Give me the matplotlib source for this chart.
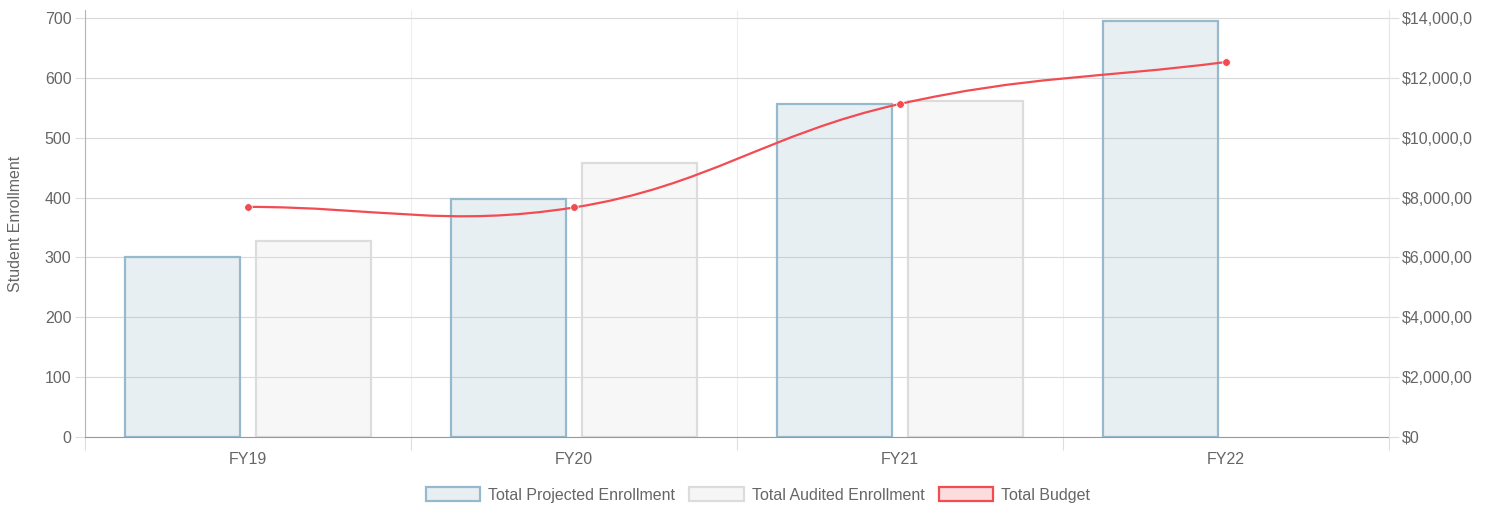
import numpy as np
import matplotlib.pyplot as plt
from matplotlib.path import Path
from matplotlib.patches import PathPatch, Patch
from matplotlib.ticker import FuncFormatter
from matplotlib.transforms import Bbox

plt.rcParams['font.family'] = ['Liberation Sans', 'DejaVu Sans']

years = ['FY19', 'FY20', 'FY21', 'FY22']
projected = [300, 398, 557, 695]
audited = [327, 457, 562, np.nan]
budget = [7690000, 7670000, 11130000, 12530000]

TXT = '#666666'
FS = 11.5

fig = plt.figure(figsize=(14.86, 5.05), dpi=100)
ax = fig.add_axes([85 / 1486, 68 / 505, 1304 / 1486, 427 / 505])
ax2 = ax.twinx()

x = np.arange(len(years))
ax.bar(x - 0.2, projected, width=0.353, color=(0.58, 0.72, 0.80, 0.22),
       edgecolor='#97b9cd', linewidth=1.6, zorder=2)
ax.bar(x + 0.2, audited, width=0.353, color=(0.86, 0.86, 0.86, 0.2),
       edgecolor='#dcdcdc', linewidth=1.6, zorder=2)

ytop = 713.4
ax.set_ylim(0, ytop)
ax.set_xlim(-0.5, len(years) - 0.5)
ax.set_yticks(range(0, 701, 100))
ax.set_xticks(x)
ax.set_xticklabels(years)
ax.set_xticks(np.arange(-0.5, len(years), 1), minor=True)
ax.tick_params(axis='x', which='major', length=0, pad=11, labelsize=FS, labelcolor=TXT)
ax.tick_params(axis='x', which='minor', length=9.4, color='#dddddd', width=0.8)
ax.tick_params(axis='y', length=7.2, color='#dddddd', width=0.8, labelsize=FS,
               labelcolor=TXT, pad=2.6)
ax.grid(axis='y', color='#d9d9d9', linewidth=0.8, zorder=0)
ax.grid(axis='x', which='minor', color='#eeeeee', linewidth=0.8, zorder=0)
ax.set_axisbelow(True)
ax.set_ylabel('Student Enrollment', color=TXT, fontsize=FS)
ax.yaxis.set_label_coords(-62 / 1304, 0.5)
for s in ['top', 'right']:
    ax.spines[s].set_visible(False)
ax.spines['left'].set_color('#b5b5b5')
ax.spines['bottom'].set_color('#999999')

# right axis
ax2.set_ylim(0, ytop / 700 * 14000000)
ax2.set_yticks(range(0, 14000001, 2000000))
ax2.yaxis.set_major_formatter(FuncFormatter(lambda v, p: '${:,.0f}'.format(v)))
ax2.tick_params(axis='y', length=7.2, color='#dddddd', width=0.8, labelsize=FS,
                labelcolor=TXT, pad=2.2)
for s in ['top', 'left', 'bottom']:
    ax2.spines[s].set_visible(False)
ax2.spines['right'].set_color('#e6e6e6')

# smooth line (bezier, tension 0.4) through budget points
fig.canvas.draw()
pts = ax2.transData.transform(np.column_stack([x, budget]))
t = 0.4
verts = [pts[0]]
codes = [Path.MOVETO]
cps = []
n = len(pts)
for i in range(n):
    prev = pts[max(i - 1, 0)]
    cur = pts[i]
    nxt = pts[min(i + 1, n - 1)]
    d01 = np.hypot(*(cur - prev))
    d12 = np.hypot(*(nxt - cur))
    tot = d01 + d12 if d01 + d12 > 0 else 1
    fa = t * d01 / tot
    fb = t * d12 / tot
    cps.append((cur - fa * (nxt - prev), cur + fb * (nxt - prev)))
for i in range(n - 1):
    verts += [cps[i][1], cps[i + 1][0], pts[i + 1]]
    codes += [Path.CURVE4] * 3
inv = ax2.transData.inverted()
verts = inv.transform(np.array(verts))
ax2.add_patch(PathPatch(Path(verts, codes), facecolor='none', edgecolor='#f24b52',
                        linewidth=1.6, zorder=3))
ax2.plot(x, budget, 'o', color='#f24b52', markersize=5.5, zorder=4,
         markeredgecolor='white', markeredgewidth=0.5)

# the source chart's canvas cuts the right-hand labels off
clip = Bbox.from_extents(0, 0, 1472, 505)
for lab in ax2.get_yticklabels():
    lab.set_clip_box(clip)
    lab.set_clip_on(True)

handles = [
    Patch(facecolor='#e7eff3', edgecolor='#97b9cd', linewidth=1.6, label='Total Projected Enrollment'),
    Patch(facecolor='#f6f6f6', edgecolor='#dcdcdc', linewidth=1.6, label='Total Audited Enrollment'),
    Patch(facecolor='#fddcdd', edgecolor='#f24b52', linewidth=1.6, label='Total Budget'),
]
fig.legend(handles=handles, loc='center', bbox_to_anchor=(0.51, 10 / 505),
           ncol=3, frameon=False, fontsize=FS, labelcolor=TXT, handlelength=3.4,
           handleheight=1.0, handletextpad=0.5, columnspacing=0.9)

fig.savefig('out.png', dpi=100)
